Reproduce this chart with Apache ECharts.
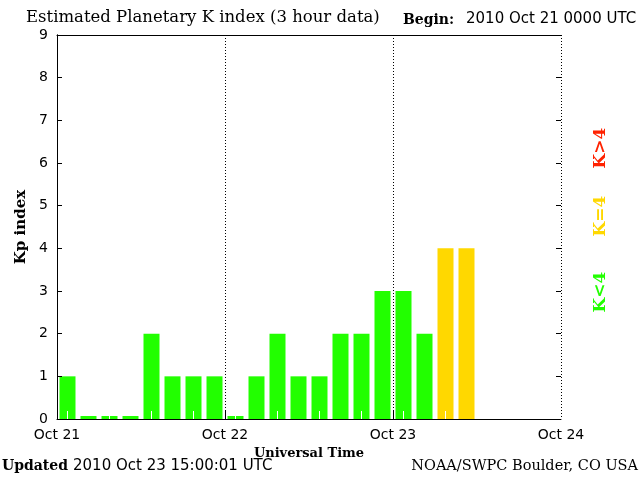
<!DOCTYPE html>
<html>
<head>
<meta charset="utf-8">
<script src="https://cdn.jsdelivr.net/npm/echarts@6/dist/echarts.min.js"></script>
<style>html,body{margin:0;padding:0;background:#fff}#c{width:640px;height:480px}</style>
</head>
<body>
<div id="c"></div>
<script>
// 3-hour bins starting 2010 Oct 21 00 UTC
var binLabels = ['21/00','21/03','21/06','21/09','21/12','21/15','21/18','21/21',
                 '22/00','22/03','22/06','22/09','22/12','22/15','22/18','22/21',
                 '23/00','23/03','23/06','23/09','23/12','23/15','23/18','23/21'];
var kpValues = [1,0,0,0,2,1,1,1, 0,1,2,1,1,2,2,3, 3,2,4,4, null,null,null,null];
var dayLabels = ['Oct 21','Oct 22','Oct 23','Oct 24'];
var dayHours = [0,24,48,72];
var yTicks = [0,1,2,3,4,5,6,7,8,9];

var GREEN = '#22ff00', YELLOW = '#ffd800', RED = '#ff2200';
function colorFor(v){ return v > 4 ? RED : (v === 4 ? YELLOW : GREEN); }

var chart = echarts.init(document.getElementById('c'), null, {renderer:'canvas'});
var sans = 'DejaVu Sans';
var serif = 'DejaVu Serif';

function crisp(v){ return Math.round(v - 0.5) + 0.5; }

var option = {
  animation:false,
  backgroundColor:'#fff',
  grid:{left:57, right:79, top:35, bottom:61, containLabel:false},
  xAxis:[
    {type:'category', data:binLabels, position:'bottom', boundaryGap:true, z:10,
     axisLine:{show:false}, axisLabel:{show:false}, splitLine:{show:false},
     axisTick:{show:true, inside:true, length:8, alignWithLabel:true, lineStyle:{color:'#fff', width:1}}},
    {type:'value', min:0, max:72, interval:24, position:'bottom', z:11,
     axisLine:{show:true, onZero:false, lineStyle:{color:'#000', width:1}},
     axisTick:{show:false},
     axisLabel:{show:true, margin:9, color:'#000', fontFamily:sans, fontSize:14,
       formatter:function(v){ return dayLabels[dayHours.indexOf(v)]; }},
     splitLine:{show:true, lineStyle:{color:'#000', type:[1,2], width:1}},
     name:'Universal Time', nameLocation:'middle', nameGap:21,
     nameTextStyle:{fontFamily:serif, fontWeight:'bold', fontSize:13, color:'#000'}},
    {type:'value', min:0, max:72, interval:24, position:'top',
     axisLine:{show:true, onZero:false, lineStyle:{color:'#000', width:1}},
     axisTick:{show:false}, axisLabel:{show:false}, splitLine:{show:false}}
  ],
  yAxis:[
    {type:'value', min:0, max:9, interval:1, position:'left',
     axisLine:{show:true, lineStyle:{color:'#000', width:1}},
     axisTick:{show:false},
     axisLabel:{color:'#000', fontFamily:sans, fontSize:14, margin:9,
       formatter:function(v){ return String(yTicks[v]); }},
     splitLine:{show:false},
     name:'Kp index', nameLocation:'middle', nameGap:26, nameRotate:90,
     nameTextStyle:{fontFamily:serif, fontWeight:'bold', fontSize:15, color:'#000'}},
    {type:'value', min:0, max:9, interval:1, position:'right',
     axisLine:{show:true, lineStyle:{color:'#000', width:1}},
     axisTick:{show:false}, axisLabel:{show:false}, splitLine:{show:false}}
  ],
  series:[
    {type:'bar', xAxisIndex:0, yAxisIndex:0, barWidth:16, barMinHeight:3,
     data:kpValues.map(function(v){
       return v === null ? null : {value:v, itemStyle:{color:colorFor(v)}};
     })},
    // inward y ticks on left and right frame edges
    {type:'custom', xAxisIndex:1, yAxisIndex:0, z:20, silent:true,
     data:yTicks.slice(1, -1),
     renderItem:function(params, api){
       var v = api.value(0);
       var p = api.coord([dayHours[0], v]);
       var q = api.coord([dayHours[dayHours.length-1], v]);
       var y = crisp(p[1]);
       return {type:'group', children:[
         {type:'line', shape:{x1:p[0], y1:y, x2:p[0]+5, y2:y}, style:{stroke:'#000', lineWidth:1}},
         {type:'line', shape:{x1:q[0]-5, y1:y, x2:q[0], y2:y}, style:{stroke:'#000', lineWidth:1}}
       ]};
     }},
    // day ticks pointing up from the bottom edge
    {type:'custom', xAxisIndex:1, yAxisIndex:0, z:20, silent:true,
     data:dayHours.slice(1, -1),
     renderItem:function(params, api){
       var d = api.value(0);
       var p = api.coord([d, 0]);
       var x = crisp(p[0]);
       return {type:'line', shape:{x1:x, y1:p[1], x2:x, y2:p[1]-8}, style:{stroke:'#000', lineWidth:1}};
     }}
  ],
  graphic:[
    {type:'text', left:26, top:9, style:{text:'Estimated Planetary K index (3 hour data)', font:'16.5px "DejaVu Serif"', fill:'#000'}},
    {type:'text', left:403, top:13, style:{text:'Begin:', font:'bold 14px "DejaVu Serif"', fill:'#000'}},
    {type:'text', left:466, top:12, style:{text:'2010 Oct 21 0000 UTC', font:'15px "DejaVu Sans"', fill:'#000'}},
    {type:'text', left:2, top:459, style:{text:'Updated', font:'bold 14px "DejaVu Serif"', fill:'#000'}},
    {type:'text', left:73, top:459, style:{text:'2010 Oct 23 15:00:01 UTC', font:'15px "DejaVu Sans"', fill:'#000'}},
    {type:'text', right:2, top:459, style:{text:'NOAA/SWPC Boulder, CO USA', font:'14.5px "DejaVu Serif"', fill:'#000'}},
    {type:'text', x:601, y:292, rotation:Math.PI/2, style:{text:'K<4', font:'bold 17px "DejaVu Serif"', fill:GREEN, align:'center', verticalAlign:'middle'}},
    {type:'text', x:601, y:216, rotation:Math.PI/2, style:{text:'K=4', font:'bold 17px "DejaVu Serif"', fill:YELLOW, align:'center', verticalAlign:'middle'}},
    {type:'text', x:601, y:148, rotation:Math.PI/2, style:{text:'K>4', font:'bold 17px "DejaVu Serif"', fill:RED, align:'center', verticalAlign:'middle'}}
  ]
};
chart.setOption(option);
</script>
</body>
</html>
